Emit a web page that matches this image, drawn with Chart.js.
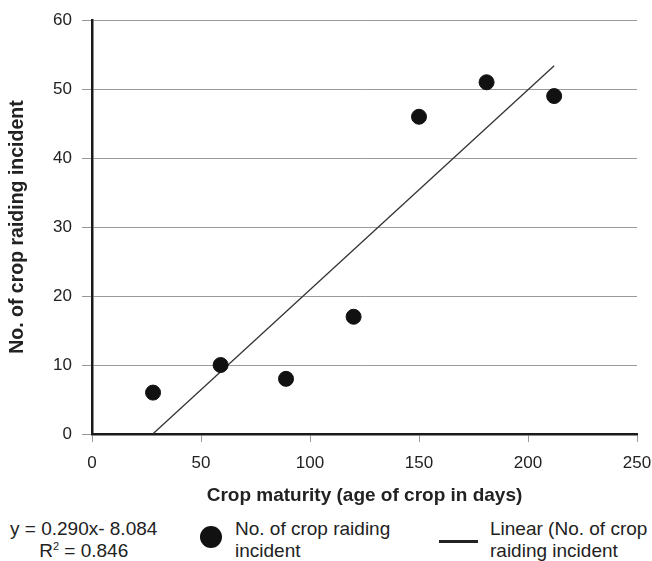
<!DOCTYPE html>
<html>
<head>
<meta charset="utf-8">
<script src="https://cdn.jsdelivr.net/npm/chart.js@4/dist/chart.umd.min.js"></script>
<style>
  body { margin: 0; background: #fff; font-family: "Liberation Sans", Arial, sans-serif; color: #222; }
  #wrap { position: relative; width: 652px; height: 561px; }
  #chart { position: absolute; left: 0; top: 0; }
  .lg { position: absolute; font-size: 19px; line-height: 22px; white-space: nowrap; }
  .dot { position: absolute; width: 22px; height: 22px; border-radius: 50%; background: #111; }
  .bar { position: absolute; height: 3px; background: #222; }
</style>
</head>
<body>
<div id="wrap">
  <canvas id="chart" width="652" height="510"></canvas>
  <div class="lg" style="left:10px; top:518px; text-align:center;">y = 0.290x- 8.084<br>R<sup style="font-size:11px; line-height:0">2</sup> = 0.846</div>
  <div class="dot" style="left:200px; top:526px;"></div>
  <div class="lg" style="left:235px; top:518px;">No. of crop raiding<br>incident</div>
  <div class="bar" style="left:439px; top:540px; width:39px;"></div>
  <div class="lg" style="left:490px; top:518px;">Linear (No. of crop<br>raiding incident</div>
</div>
<script>
// Crop age (days) vs number of raiding incidents
const cropAge = [28, 59, 89, 120, 150, 181, 212];
const incidents = [6, 10, 8, 17, 46, 51, 49];

// Linear trend from the reference equation
const slope = 0.290;
const intercept = -8.084;
const trendX = [28, 212];

const xTicks = [0, 50, 100, 150, 200, 250];
const yTicks = [0, 10, 20, 30, 40, 50, 60];

const pts = cropAge.map((x, i) => ({ x: x, y: incidents[i] }));
const trend = trendX.map(x => ({ x: x, y: Math.max(0, slope * x + intercept) }));

const ctx = document.getElementById('chart').getContext('2d');
new Chart(ctx, {
  type: 'scatter',
  data: {
    datasets: [
      {
        label: 'No. of crop raiding incident',
        data: pts,
        backgroundColor: '#111',
        borderColor: '#111',
        pointRadius: 7.5,
        pointHoverRadius: 7.5
      },
      {
        type: 'line',
        label: 'Linear (No. of crop raiding incident',
        data: trend,
        borderColor: '#333',
        borderWidth: 1.3,
        pointRadius: 0,
        fill: false
      }
    ]
  },
  options: {
    responsive: false,
    animation: false,
    layout: { padding: { left: 0, top: 17, right: 15, bottom: 0 } },
    plugins: {
      legend: { display: false },
      tooltip: { enabled: false }
    },
    scales: {
      x: {
        type: 'linear',
        min: xTicks[0],
        max: xTicks[xTicks.length - 1],
        afterBuildTicks: s => { s.ticks = xTicks.map(v => ({ value: v })); },
        afterFit: s => { s.height = 76; s.paddingRight = 0; s.paddingLeft = 0; },
        grid: { drawOnChartArea: false, drawTicks: true, tickLength: 8, color: '#999' },
        border: { display: true, color: '#1a1a1a', width: 2.5 },
        ticks: { padding: 11, color: '#222', font: { family: 'Liberation Sans', size: 17 } },
        title: {
          display: true,
          text: 'Crop maturity (age of crop in days)',
          color: '#222',
          padding: { top: 4, bottom: 3 },
          font: { family: 'Liberation Sans', size: 19, weight: 'bold' }
        }
      },
      y: {
        min: yTicks[0],
        max: yTicks[yTicks.length - 1],
        afterBuildTicks: s => { s.ticks = yTicks.map(v => ({ value: v })); },
        afterFit: s => { s.width = 92; },
        grid: { color: '#999', lineWidth: 1, tickLength: 10 },
        border: { display: true, color: '#1a1a1a', width: 2.5 },
        ticks: { padding: 10, color: '#222', font: { family: 'Liberation Sans', size: 17 } },
        title: {
          display: true,
          text: 'No. of crop raiding incident',
          color: '#222',
          padding: { top: 6, bottom: 4 },
          font: { family: 'Liberation Sans', size: 19.5, weight: 'bold' }
        }
      }
    }
  }
});
</script>
</body>
</html>
